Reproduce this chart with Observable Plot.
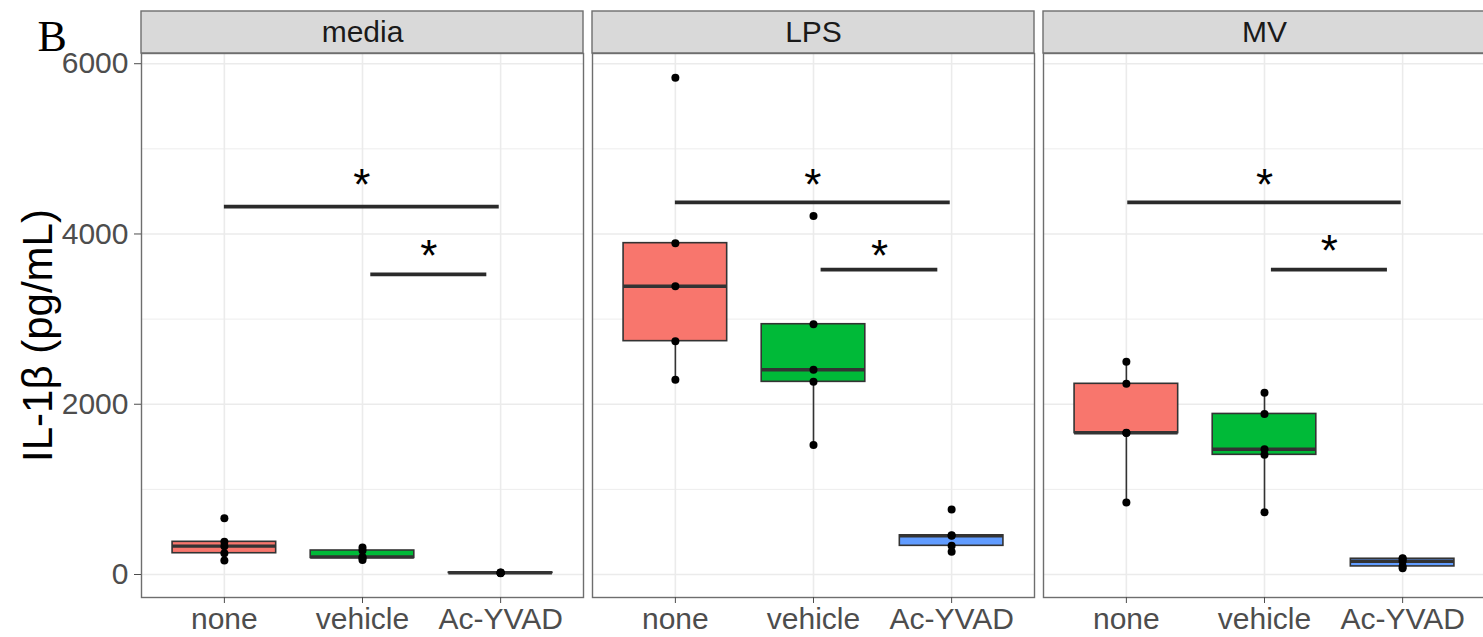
<!DOCTYPE html>
<html>
<head>
<meta charset="utf-8">
<script src="https://cdn.jsdelivr.net/npm/d3@7"></script>
<script src="https://cdn.jsdelivr.net/npm/@observablehq/plot@0.6"></script>
<style>
  html, body { margin: 0; padding: 0; background: #fff; overflow: hidden; }
  #chart { position: relative; width: 1486px; height: 637px; }
</style>
</head>
<body>
<div id="chart"></div>
<script>
// ---- data ----
const panels = ["media", "LPS", "MV"];
const groups = ["none", "vehicle", "Ac-YVAD"];
const groupColors = ["#F8766D", "#00BA38", "#619CFF"];
const yTicks = [0, 2000, 4000, 6000];
const yMinorTicks = [1000, 3000, 5000];

const media_none = [164, 250, 333, 384, 661];
const media_vehicle = [170, 195, 205, 282, 317];
const media_acyvad = [15, 18, 20, 22, 25];
const lps_none = [2287, 2741, 3386, 3892, 5834];
const lps_vehicle = [1521, 2263, 2405, 2940, 4212];
const lps_acyvad = [268, 337, 455, 460, 763];
const mv_none = [846, 1661, 1665, 2240, 2500];
const mv_vehicle = [732, 1406, 1472, 1886, 2134];
const mv_acyvad = [75, 95, 155, 185, 190];

// significance brackets (x in category units: 1 = none, 2 = vehicle, 3 = Ac-YVAD)
const sigPanel = ["media", "media", "LPS", "LPS", "MV", "MV"];
const sigStart = [1, 2.06, 1, 2.055, 1.01, 2.05];
const sigEnd = [2.99, 2.9, 2.99, 2.9, 2.99, 2.89];
const sigY = [4321, 3526, 4371, 3581, 4371, 3581];
const starY = [4650, 3816, 4650, 3816, 4650, 3875];
const sigLabel = ["*", "*", "*", "*", "*", "*"];

// ---- build tables ----
const valueTable = {
  media: [media_none, media_vehicle, media_acyvad],
  LPS: [lps_none, lps_vehicle, lps_acyvad],
  MV: [mv_none, mv_vehicle, mv_acyvad]
};

const points = [];
const boxes = [];
panels.forEach(p => {
  groups.forEach((g, gi) => {
    const vals = valueTable[p][gi].slice().sort(d3.ascending);
    vals.forEach(v => points.push({panel: p, group: g, xi: gi + 1, value: v}));
    const q1 = d3.quantile(vals, 0.25);
    const med = d3.quantile(vals, 0.5);
    const q3 = d3.quantile(vals, 0.75);
    const iqr = q3 - q1;
    const lo = d3.min(vals.filter(v => v >= q1 - 1.5 * iqr));
    const hi = d3.max(vals.filter(v => v <= q3 + 1.5 * iqr));
    boxes.push({panel: p, group: g, xi: gi + 1, color: groupColors[gi], q1, med, q3, lo, hi});
  });
});

const sigs = sigPanel.map((p, i) => ({panel: p, x1: sigStart[i], x2: sigEnd[i], y: sigY[i], sy: starY[i], label: sigLabel[i]}));

const halfBox = 0.375;
const dark = "#333333";

const plot = Plot.plot({
  width: 1486,
  height: 637,
  marginTop: 53,
  marginBottom: 40,
  marginLeft: 141,
  marginRight: 1,
  style: {fontFamily: "'Liberation Sans', Arial, sans-serif", fontSize: "30px", background: "#fff"},
  fx: {domain: panels, paddingInner: 9 / 451, paddingOuter: 0, axis: null, label: null},
  x: {type: "linear", domain: [0.4, 3.6], axis: null},
  y: {domain: [-270, 6120], axis: null},
  marks: [
    // grid
    Plot.gridY(yMinorTicks, {stroke: "#ebebeb", strokeOpacity: 1, strokeWidth: 0.9}),
    Plot.gridY(yTicks, {stroke: "#ebebeb", strokeOpacity: 1, strokeWidth: 1.6}),
    Plot.gridX([1, 2, 3], {stroke: "#ebebeb", strokeOpacity: 1, strokeWidth: 1.6}),
    // whiskers
    Plot.ruleX(boxes, {fx: "panel", x: "xi", y1: "lo", y2: "q1", stroke: dark, strokeWidth: 1.6}),
    Plot.ruleX(boxes, {fx: "panel", x: "xi", y1: "q3", y2: "hi", stroke: dark, strokeWidth: 1.6}),
    // boxes
    Plot.rect(boxes, {fx: "panel", x1: d => d.xi - halfBox, x2: d => d.xi + halfBox, y1: "q1", y2: "q3",
      fill: "color", stroke: dark, strokeWidth: 1.6}),
    // medians
    Plot.ruleY(boxes, {fx: "panel", y: "med", x1: d => d.xi - halfBox, x2: d => d.xi + halfBox, stroke: dark, strokeWidth: 3.4}),
    // points
    Plot.dot(points, {fx: "panel", x: "xi", y: "value", r: 4, fill: "#000", stroke: "none"}),
    // significance lines + stars
    Plot.ruleY(sigs, {fx: "panel", y: "y", x1: "x1", x2: "x2", stroke: "#2a2a2a", strokeWidth: 3.6}),
    Plot.text(sigs, {fx: "panel", x: d => (d.x1 + d.x2) / 2, y: "sy", text: "label", fontSize: 44, fill: "#000", dy: 7}),
    // panel border
    Plot.frame({stroke: "#6e6e6e", strokeWidth: 1.4}),
    // axes
    Plot.axisY(yTicks, {tickFormat: d => String(d), tickSize: 7, tickPadding: 6, fontSize: 30, color: "#4d4d4d"}),
    Plot.axisX([1, 2, 3], {tickFormat: d => groups[d - 1], tickSize: 6, tickPadding: 4, fontSize: 30, color: "#4d4d4d"}),
    // strip labels
    Plot.text(panels, {fx: d => d, text: d => d, frameAnchor: "top", dy: -21, lineAnchor: "middle",
      fontSize: 30, fill: "#1a1a1a"}),
    // y axis title
    Plot.text(["IL-1\u03B2 (pg/mL)"], {fx: () => "media", text: d => d, frameAnchor: "left", dx: -103, dy: 10,
      rotate: -90, textAnchor: "middle", lineAnchor: "middle", fontSize: 42, fill: "#000"}),
    // panel tag
    Plot.text(["B"], {fx: () => "media", text: d => d, frameAnchor: "top-left", dx: -104, dy: -3,
      lineAnchor: "bottom", textAnchor: "start", fontSize: 44, fill: "#000",
      fontFamily: "'Liberation Serif', 'DejaVu Serif', serif"})
  ]
});

// strip backgrounds, positioned with Plot's own fx scale
const fxScale = plot.scale("fx");
const svg = d3.select(plot);
const strips = svg.insert("g", ":first-child");
panels.forEach(p => {
  strips.append("rect")
    .attr("x", fxScale.apply(p))
    .attr("y", 11)
    .attr("width", fxScale.bandwidth)
    .attr("height", 42)
    .attr("fill", "#d9d9d9")
    .attr("stroke", "#6e6e6e")
    .attr("stroke-width", 1.4);
});

document.getElementById("chart").appendChild(plot);
</script>
</body>
</html>
